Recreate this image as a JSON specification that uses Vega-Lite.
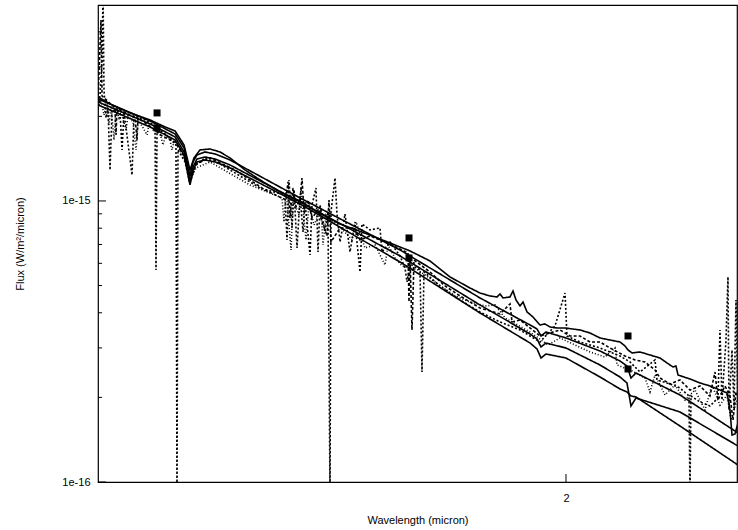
{
  "$schema": "https://vega.github.io/schema/vega-lite/v6.json",
  "autosize": "none",
  "width": 639,
  "height": 477,
  "padding": {"left": 98, "top": 5, "right": 1, "bottom": 48},
  "background": "white",
  "config": {
    "view": {"stroke": "#000", "strokeWidth": 1.2},
    "font": "Liberation Sans",
    "axis": {"domain": false, "ticks": false, "labelColor": "#000", "titleColor": "#000", "labelFont": "Liberation Sans", "titleFont": "Liberation Sans", "labelFontSize": 11, "titleFontSize": 11, "titleFontWeight": "normal", "grid": false}
  },
  "datasets": {
    "spec": [
      {"series": "m1", "lam": 1.1476, "flux": 2.307e-15},
      {"series": "m1", "lam": 1.2207, "flux": 1.926e-15},
      {"series": "m1", "lam": 1.2575, "flux": 1.732e-15},
      {"series": "m1", "lam": 1.2710, "flux": 1.544e-15},
      {"series": "m1", "lam": 1.2800, "flux": 1.227e-15},
      {"series": "m1", "lam": 1.2846, "flux": 1.377e-15},
      {"series": "m1", "lam": 1.2907, "flux": 1.458e-15},
      {"series": "m1", "lam": 1.3030, "flux": 1.494e-15},
      {"series": "m1", "lam": 1.3186, "flux": 1.470e-15},
      {"series": "m1", "lam": 1.3423, "flux": 1.399e-15},
      {"series": "m1", "lam": 1.4586, "flux": 1.025e-15},
      {"series": "m1", "lam": 1.6424, "flux": 6.693e-16},
      {"series": "m1", "lam": 1.8059, "flux": 4.517e-16},
      {"series": "m1", "lam": 1.9164, "flux": 3.620e-16},
      {"series": "m1", "lam": 1.9324, "flux": 3.503e-16},
      {"series": "m1", "lam": 1.9416, "flux": 3.308e-16},
      {"series": "m1", "lam": 1.9531, "flux": 3.418e-16},
      {"series": "m1", "lam": 2.0000, "flux": 3.254e-16},
      {"series": "m1", "lam": 2.0824, "flux": 2.925e-16},
      {"series": "m1", "lam": 2.1324, "flux": 2.695e-16},
      {"series": "m1", "lam": 2.1502, "flux": 2.587e-16},
      {"series": "m1", "lam": 2.1604, "flux": 2.345e-16},
      {"series": "m1", "lam": 2.1733, "flux": 2.443e-16},
      {"series": "m1", "lam": 2.2898, "flux": 2.040e-16},
      {"series": "m1", "lam": 2.4530, "flux": 1.494e-16},
      {"series": "m2", "lam": 1.1476, "flux": 2.251e-15},
      {"series": "m2", "lam": 1.2207, "flux": 1.880e-15},
      {"series": "m2", "lam": 1.2575, "flux": 1.690e-15},
      {"series": "m2", "lam": 1.2710, "flux": 1.494e-15},
      {"series": "m2", "lam": 1.2800, "flux": 1.169e-15},
      {"series": "m2", "lam": 1.2846, "flux": 1.321e-15},
      {"series": "m2", "lam": 1.2907, "flux": 1.411e-15},
      {"series": "m2", "lam": 1.3030, "flux": 1.434e-15},
      {"series": "m2", "lam": 1.3186, "flux": 1.411e-15},
      {"series": "m2", "lam": 1.3423, "flux": 1.343e-15},
      {"series": "m2", "lam": 1.4586, "flux": 9.918e-16},
      {"series": "m2", "lam": 1.6424, "flux": 6.372e-16},
      {"series": "m2", "lam": 1.8059, "flux": 4.265e-16},
      {"series": "m2", "lam": 1.9164, "flux": 3.363e-16},
      {"series": "m2", "lam": 1.9324, "flux": 3.228e-16},
      {"series": "m2", "lam": 1.9416, "flux": 3.023e-16},
      {"series": "m2", "lam": 1.9531, "flux": 3.124e-16},
      {"series": "m2", "lam": 2.0000, "flux": 2.998e-16},
      {"series": "m2", "lam": 2.0824, "flux": 2.608e-16},
      {"series": "m2", "lam": 2.1324, "flux": 2.364e-16},
      {"series": "m2", "lam": 2.1502, "flux": 2.251e-16},
      {"series": "m2", "lam": 2.1604, "flux": 1.864e-16},
      {"series": "m2", "lam": 2.1733, "flux": 1.990e-16},
      {"series": "m2", "lam": 2.2898, "flux": 1.775e-16},
      {"series": "m2", "lam": 2.4530, "flux": 1.343e-16},
      {"series": "m3", "lam": 1.1476, "flux": 2.196e-15},
      {"series": "m3", "lam": 1.2207, "flux": 1.834e-15},
      {"series": "m3", "lam": 1.2575, "flux": 1.649e-15},
      {"series": "m3", "lam": 1.2710, "flux": 1.458e-15},
      {"series": "m3", "lam": 1.2800, "flux": 1.140e-15},
      {"series": "m3", "lam": 1.2846, "flux": 1.289e-15},
      {"series": "m3", "lam": 1.2907, "flux": 1.377e-15},
      {"series": "m3", "lam": 1.3030, "flux": 1.399e-15},
      {"series": "m3", "lam": 1.3186, "flux": 1.377e-15},
      {"series": "m3", "lam": 1.3423, "flux": 1.311e-15},
      {"series": "m3", "lam": 1.4586, "flux": 9.757e-16},
      {"series": "m3", "lam": 1.6424, "flux": 6.066e-16},
      {"series": "m3", "lam": 1.8059, "flux": 3.994e-16},
      {"series": "m3", "lam": 1.9164, "flux": 3.124e-16},
      {"series": "m3", "lam": 1.9324, "flux": 2.974e-16},
      {"series": "m3", "lam": 1.9416, "flux": 2.762e-16},
      {"series": "m3", "lam": 1.9531, "flux": 2.854e-16},
      {"series": "m3", "lam": 2.0000, "flux": 2.762e-16},
      {"series": "m3", "lam": 2.0824, "flux": 2.364e-16},
      {"series": "m3", "lam": 2.1324, "flux": 2.143e-16},
      {"series": "m3", "lam": 2.1502, "flux": 2.091e-16},
      {"series": "m3", "lam": 2.1604, "flux": 2.023e-16},
      {"series": "m3", "lam": 2.1733, "flux": 2.007e-16},
      {"series": "m3", "lam": 2.2898, "flux": 1.582e-16},
      {"series": "m3", "lam": 2.4530, "flux": 1.149e-16},
      {"series": "o1", "lam": 1.1476, "flux": 2.345e-15},
      {"series": "o1", "lam": 1.1641, "flux": 2.214e-15},
      {"series": "o1", "lam": 1.1921, "flux": 2.057e-15},
      {"series": "o1", "lam": 1.2207, "flux": 1.942e-15},
      {"series": "o1", "lam": 1.2426, "flux": 1.834e-15},
      {"series": "o1", "lam": 1.2575, "flux": 1.775e-15},
      {"series": "o1", "lam": 1.2710, "flux": 1.582e-15},
      {"series": "o1", "lam": 1.2800, "flux": 1.289e-15},
      {"series": "o1", "lam": 1.2861, "flux": 1.422e-15},
      {"series": "o1", "lam": 1.2953, "flux": 1.519e-15},
      {"series": "o1", "lam": 1.3108, "flux": 1.531e-15},
      {"series": "o1", "lam": 1.3264, "flux": 1.494e-15},
      {"series": "o1", "lam": 1.3423, "flux": 1.422e-15},
      {"series": "o1", "lam": 1.3664, "flux": 1.289e-15},
      {"series": "o1", "lam": 1.3909, "flux": 1.188e-15},
      {"series": "o1", "lam": 1.4243, "flux": 1.077e-15},
      {"series": "o1", "lam": 1.4586, "flux": 1.000e-15},
      {"series": "o1", "lam": 1.4883, "flux": 9.138e-16},
      {"series": "o1", "lam": 1.5295, "flux": 8.282e-16},
      {"series": "o1", "lam": 1.5793, "flux": 7.631e-16},
      {"series": "o1", "lam": 1.6230, "flux": 7.088e-16},
      {"series": "o1", "lam": 1.6620, "flux": 6.638e-16},
      {"series": "o1", "lam": 1.7019, "flux": 6.116e-16},
      {"series": "o1", "lam": 1.7428, "flux": 5.365e-16},
      {"series": "o1", "lam": 1.7846, "flux": 4.902e-16},
      {"series": "o1", "lam": 1.8059, "flux": 4.705e-16},
      {"series": "o1", "lam": 1.8275, "flux": 4.591e-16},
      {"series": "o1", "lam": 1.8428, "flux": 4.554e-16},
      {"series": "o1", "lam": 1.8493, "flux": 4.667e-16},
      {"series": "o1", "lam": 1.8559, "flux": 4.517e-16},
      {"series": "o1", "lam": 1.8714, "flux": 4.554e-16},
      {"series": "o1", "lam": 1.8781, "flux": 4.783e-16},
      {"series": "o1", "lam": 1.8848, "flux": 4.443e-16},
      {"series": "o1", "lam": 1.8938, "flux": 4.230e-16},
      {"series": "o1", "lam": 1.9005, "flux": 4.371e-16},
      {"series": "o1", "lam": 1.9096, "flux": 4.027e-16},
      {"series": "o1", "lam": 1.9232, "flux": 3.865e-16},
      {"series": "o1", "lam": 1.9392, "flux": 3.620e-16},
      {"series": "o1", "lam": 1.9508, "flux": 3.650e-16},
      {"series": "o1", "lam": 1.9624, "flux": 3.561e-16},
      {"series": "o1", "lam": 1.9788, "flux": 3.532e-16},
      {"series": "o1", "lam": 1.9977, "flux": 3.532e-16},
      {"series": "o1", "lam": 2.0335, "flux": 3.475e-16},
      {"series": "o1", "lam": 2.0578, "flux": 3.390e-16},
      {"series": "o1", "lam": 2.0824, "flux": 3.254e-16},
      {"series": "o1", "lam": 2.1072, "flux": 3.201e-16},
      {"series": "o1", "lam": 2.1324, "flux": 3.149e-16},
      {"series": "o1", "lam": 2.1451, "flux": 3.048e-16},
      {"series": "o1", "lam": 2.1528, "flux": 2.950e-16},
      {"series": "o1", "lam": 2.1630, "flux": 2.878e-16},
      {"series": "o1", "lam": 2.1836, "flux": 2.902e-16},
      {"series": "o1", "lam": 2.2097, "flux": 2.831e-16},
      {"series": "o1", "lam": 2.2361, "flux": 2.762e-16},
      {"series": "o1", "lam": 2.2547, "flux": 2.652e-16},
      {"series": "o1", "lam": 2.2708, "flux": 2.566e-16},
      {"series": "o1", "lam": 2.2789, "flux": 2.587e-16},
      {"series": "o1", "lam": 2.2844, "flux": 2.403e-16},
      {"series": "o1", "lam": 2.3171, "flux": 2.326e-16},
      {"series": "o1", "lam": 2.3448, "flux": 2.251e-16},
      {"series": "o1", "lam": 2.3728, "flux": 2.196e-16},
      {"series": "o1", "lam": 2.4011, "flux": 2.125e-16},
      {"series": "o1", "lam": 2.4212, "flux": 2.074e-16},
      {"series": "o1", "lam": 2.4298, "flux": 1.804e-16},
      {"series": "o1", "lam": 2.4356, "flux": 1.470e-16},
      {"series": "o1", "lam": 2.4443, "flux": 1.482e-16},
      {"series": "o1", "lam": 2.4530, "flux": 1.622e-16},
      {"series": "d1", "lam": 1.1476, "flux": 2.108e-15},
      {"series": "d1", "lam": 1.1504, "flux": 2.384e-15},
      {"series": "d1", "lam": 1.1531, "flux": 3.175e-15},
      {"series": "d1", "lam": 1.1545, "flux": 5.5e-15},
      {"series": "d1", "lam": 1.1558, "flux": 2.483e-15},
      {"series": "d1", "lam": 1.1586, "flux": 1.974e-15},
      {"series": "d1", "lam": 1.1613, "flux": 2.143e-15},
      {"series": "d1", "lam": 1.1641, "flux": 1.289e-15},
      {"series": "d1", "lam": 1.1669, "flux": 2.108e-15},
      {"series": "d1", "lam": 1.1780, "flux": 2.074e-15},
      {"series": "d1", "lam": 1.1808, "flux": 1.519e-15},
      {"series": "d1", "lam": 1.1836, "flux": 2.074e-15},
      {"series": "d1", "lam": 1.1949, "flux": 1.237e-15},
      {"series": "d1", "lam": 1.1977, "flux": 2.007e-15},
      {"series": "d1", "lam": 1.2135, "flux": 1.942e-15},
      {"series": "d1", "lam": 1.2280, "flux": 1.849e-15},
      {"series": "d1", "lam": 1.2294, "flux": 5.681e-16},
      {"series": "d1", "lam": 1.2309, "flux": 1.819e-15},
      {"series": "d1", "lam": 1.2426, "flux": 1.732e-15},
      {"series": "d1", "lam": 1.2589, "flux": 1.582e-15},
      {"series": "d1", "lam": 1.2604, "flux": 9.0e-17},
      {"series": "d1", "lam": 1.2619, "flux": 1.519e-15},
      {"series": "d1", "lam": 1.2725, "flux": 1.377e-15},
      {"series": "d1", "lam": 1.2800, "flux": 1.150e-15},
      {"series": "d1", "lam": 1.2877, "flux": 1.332e-15},
      {"series": "d1", "lam": 1.3030, "flux": 1.422e-15},
      {"series": "d1", "lam": 1.3264, "flux": 1.354e-15},
      {"series": "d1", "lam": 1.3583, "flux": 1.227e-15},
      {"series": "d1", "lam": 1.3909, "flux": 1.112e-15},
      {"series": "d1", "lam": 1.4328, "flux": 1.050e-15},
      {"series": "d1", "lam": 1.4362, "flux": 7.265e-16},
      {"series": "d1", "lam": 1.4396, "flux": 1.188e-15},
      {"series": "d1", "lam": 1.4448, "flux": 8.015e-16},
      {"series": "d1", "lam": 1.4482, "flux": 1.094e-15},
      {"series": "d1", "lam": 1.4534, "flux": 6.804e-16},
      {"series": "d1", "lam": 1.4586, "flux": 1.042e-15},
      {"series": "d1", "lam": 1.4638, "flux": 7.757e-16},
      {"series": "d1", "lam": 1.4672, "flux": 9.918e-16},
      {"series": "d1", "lam": 1.4760, "flux": 6.424e-16},
      {"series": "d1", "lam": 1.4795, "flux": 9.677e-16},
      {"series": "d1", "lam": 1.4865, "flux": 1.112e-15},
      {"series": "d1", "lam": 1.4901, "flux": 6.584e-16},
      {"series": "d1", "lam": 1.4936, "flux": 9.677e-16},
      {"series": "d1", "lam": 1.5025, "flux": 7.757e-16},
      {"series": "d1", "lam": 1.5078, "flux": 9.138e-16},
      {"series": "d1", "lam": 1.5114, "flux": 9.0e-17},
      {"series": "d1", "lam": 1.5132, "flux": 9.138e-16},
      {"series": "d1", "lam": 1.5204, "flux": 1.207e-15},
      {"series": "d1", "lam": 1.5240, "flux": 8.989e-16},
      {"series": "d1", "lam": 1.5295, "flux": 7.146e-16},
      {"series": "d1", "lam": 1.5386, "flux": 8.989e-16},
      {"series": "d1", "lam": 1.5477, "flux": 6.584e-16},
      {"series": "d1", "lam": 1.5569, "flux": 8.419e-16},
      {"series": "d1", "lam": 1.5662, "flux": 5.589e-16},
      {"series": "d1", "lam": 1.5699, "flux": 8.282e-16},
      {"series": "d1", "lam": 1.5849, "flux": 7.885e-16},
      {"series": "d1", "lam": 1.6038, "flux": 8.015e-16},
      {"series": "d1", "lam": 1.6077, "flux": 6.584e-16},
      {"series": "d1", "lam": 1.6230, "flux": 7.146e-16},
      {"series": "d1", "lam": 1.6424, "flux": 6.372e-16},
      {"series": "d1", "lam": 1.6521, "flux": 5.775e-16},
      {"series": "d1", "lam": 1.6561, "flux": 5.149e-16},
      {"series": "d1", "lam": 1.6620, "flux": 5.968e-16},
      {"series": "d1", "lam": 1.6818, "flux": 5.681e-16},
      {"series": "d1", "lam": 1.6858, "flux": 2.463e-16},
      {"series": "d1", "lam": 1.6898, "flux": 5.589e-16},
      {"series": "d1", "lam": 1.7222, "flux": 4.983e-16},
      {"series": "d1", "lam": 1.7636, "flux": 4.443e-16},
      {"series": "d1", "lam": 1.8059, "flux": 4.027e-16},
      {"series": "d1", "lam": 1.8493, "flux": 3.710e-16},
      {"series": "d1", "lam": 1.8938, "flux": 3.475e-16},
      {"series": "d1", "lam": 1.9392, "flux": 3.149e-16},
      {"series": "d1", "lam": 1.9741, "flux": 3.591e-16},
      {"series": "d1", "lam": 1.9977, "flux": 4.705e-16},
      {"series": "d1", "lam": 2.0024, "flux": 3.308e-16},
      {"series": "d1", "lam": 2.0335, "flux": 3.149e-16},
      {"series": "d1", "lam": 2.0824, "flux": 2.998e-16},
      {"series": "d1", "lam": 2.1324, "flux": 2.808e-16},
      {"series": "d1", "lam": 2.1579, "flux": 2.673e-16},
      {"series": "d1", "lam": 2.1836, "flux": 2.463e-16},
      {"series": "d1", "lam": 2.2229, "flux": 2.718e-16},
      {"series": "d1", "lam": 2.2281, "flux": 2.307e-16},
      {"series": "d1", "lam": 2.2628, "flux": 2.232e-16},
      {"series": "d1", "lam": 2.2898, "flux": 2.160e-16},
      {"series": "d1", "lam": 2.3144, "flux": 2.023e-16},
      {"series": "d1", "lam": 2.3171, "flux": 9.0e-17},
      {"series": "d1", "lam": 2.3199, "flux": 2.023e-16},
      {"series": "d1", "lam": 2.3448, "flux": 1.926e-16},
      {"series": "d1", "lam": 2.3728, "flux": 1.864e-16},
      {"series": "d1", "lam": 2.3954, "flux": 1.990e-16},
      {"series": "d1", "lam": 2.4011, "flux": 3.475e-16},
      {"series": "d1", "lam": 2.4068, "flux": 1.958e-16},
      {"series": "d1", "lam": 2.4183, "flux": 3.201e-16},
      {"series": "d1", "lam": 2.4240, "flux": 5.365e-16},
      {"series": "d1", "lam": 2.4269, "flux": 1.804e-16},
      {"series": "d1", "lam": 2.4356, "flux": 2.950e-16},
      {"series": "d1", "lam": 2.4414, "flux": 1.834e-16},
      {"series": "d1", "lam": 2.4472, "flux": 4.443e-16},
      {"series": "d1", "lam": 2.4530, "flux": 1.775e-16},
      {"series": "d2", "lam": 1.1476, "flux": 2.288e-15},
      {"series": "d2", "lam": 1.1517, "flux": 4.407e-15},
      {"series": "d2", "lam": 1.1531, "flux": 2.364e-15},
      {"series": "d2", "lam": 1.1710, "flux": 2.143e-15},
      {"series": "d2", "lam": 1.1724, "flux": 1.718e-15},
      {"series": "d2", "lam": 1.1738, "flux": 2.143e-15},
      {"series": "d2", "lam": 1.1992, "flux": 1.974e-15},
      {"series": "d2", "lam": 1.2020, "flux": 1.649e-15},
      {"series": "d2", "lam": 1.2034, "flux": 1.974e-15},
      {"series": "d2", "lam": 1.2280, "flux": 1.789e-15},
      {"series": "d2", "lam": 1.2353, "flux": 1.718e-15},
      {"series": "d2", "lam": 1.2575, "flux": 1.622e-15},
      {"series": "d2", "lam": 1.2725, "flux": 1.422e-15},
      {"series": "d2", "lam": 1.2800, "flux": 1.159e-15},
      {"series": "d2", "lam": 1.2892, "flux": 1.354e-15},
      {"series": "d2", "lam": 1.3108, "flux": 1.422e-15},
      {"series": "d2", "lam": 1.3503, "flux": 1.289e-15},
      {"series": "d2", "lam": 1.3992, "flux": 1.094e-15},
      {"series": "d2", "lam": 1.4345, "flux": 1.008e-15},
      {"series": "d2", "lam": 1.4379, "flux": 1.169e-15},
      {"series": "d2", "lam": 1.4413, "flux": 8.699e-16},
      {"series": "d2", "lam": 1.4465, "flux": 1.112e-15},
      {"series": "d2", "lam": 1.4517, "flux": 9.520e-16},
      {"series": "d2", "lam": 1.4586, "flux": 1.008e-15},
      {"series": "d2", "lam": 1.4620, "flux": 1.207e-15},
      {"series": "d2", "lam": 1.4655, "flux": 9.138e-16},
      {"series": "d2", "lam": 1.4725, "flux": 1.008e-15},
      {"series": "d2", "lam": 1.4795, "flux": 8.699e-16},
      {"series": "d2", "lam": 1.4901, "flux": 9.289e-16},
      {"series": "d2", "lam": 1.5061, "flux": 7.507e-16},
      {"series": "d2", "lam": 1.5096, "flux": 1.008e-15},
      {"series": "d2", "lam": 1.5132, "flux": 7.146e-16},
      {"series": "d2", "lam": 1.5295, "flux": 8.015e-16},
      {"series": "d2", "lam": 1.5569, "flux": 8.015e-16},
      {"series": "d2", "lam": 1.5662, "flux": 7.265e-16},
      {"series": "d2", "lam": 1.5849, "flux": 7.507e-16},
      {"series": "d2", "lam": 1.6134, "flux": 7.146e-16},
      {"series": "d2", "lam": 1.6385, "flux": 6.804e-16},
      {"series": "d2", "lam": 1.6580, "flux": 6.530e-16},
      {"series": "d2", "lam": 1.6600, "flux": 4.371e-16},
      {"series": "d2", "lam": 1.6620, "flux": 6.268e-16},
      {"series": "d2", "lam": 1.6659, "flux": 3.475e-16},
      {"series": "d2", "lam": 1.6699, "flux": 6.166e-16},
      {"series": "d2", "lam": 1.7019, "flux": 5.589e-16},
      {"series": "d2", "lam": 1.7325, "flux": 4.983e-16},
      {"series": "d2", "lam": 1.7636, "flux": 4.591e-16},
      {"series": "d2", "lam": 1.8059, "flux": 4.161e-16},
      {"series": "d2", "lam": 1.8493, "flux": 3.962e-16},
      {"series": "d2", "lam": 1.8714, "flux": 4.300e-16},
      {"series": "d2", "lam": 1.8759, "flux": 3.710e-16},
      {"series": "d2", "lam": 1.8938, "flux": 3.772e-16},
      {"series": "d2", "lam": 1.9392, "flux": 3.308e-16},
      {"series": "d2", "lam": 1.9858, "flux": 3.475e-16},
      {"series": "d2", "lam": 2.0095, "flux": 3.308e-16},
      {"series": "d2", "lam": 2.0335, "flux": 3.308e-16},
      {"series": "d2", "lam": 2.0578, "flux": 3.149e-16},
      {"series": "d2", "lam": 2.0824, "flux": 3.149e-16},
      {"series": "d2", "lam": 2.1072, "flux": 2.998e-16},
      {"series": "d2", "lam": 2.1451, "flux": 2.808e-16},
      {"series": "d2", "lam": 2.1707, "flux": 2.718e-16},
      {"series": "d2", "lam": 2.1966, "flux": 2.673e-16},
      {"series": "d2", "lam": 2.2229, "flux": 2.504e-16},
      {"series": "d2", "lam": 2.2361, "flux": 2.345e-16},
      {"series": "d2", "lam": 2.2628, "flux": 2.232e-16},
      {"series": "d2", "lam": 2.2898, "flux": 2.307e-16},
      {"series": "d2", "lam": 2.3171, "flux": 2.125e-16},
      {"series": "d2", "lam": 2.3448, "flux": 2.196e-16},
      {"series": "d2", "lam": 2.3728, "flux": 2.023e-16},
      {"series": "d2", "lam": 2.3869, "flux": 2.463e-16},
      {"series": "d2", "lam": 2.3954, "flux": 1.958e-16},
      {"series": "d2", "lam": 2.4154, "flux": 2.196e-16},
      {"series": "d2", "lam": 2.4298, "flux": 2.023e-16},
      {"series": "d2", "lam": 2.4385, "flux": 1.662e-16},
      {"series": "d2", "lam": 2.4472, "flux": 2.091e-16},
      {"series": "d2", "lam": 2.4530, "flux": 2.023e-16},
      {"series": "d3", "lam": 1.1476, "flux": 2.143e-15},
      {"series": "d3", "lam": 1.1517, "flux": 2.288e-15},
      {"series": "d3", "lam": 1.1558, "flux": 2.023e-15},
      {"series": "d3", "lam": 1.1600, "flux": 2.251e-15},
      {"series": "d3", "lam": 1.1627, "flux": 1.864e-15},
      {"series": "d3", "lam": 1.1655, "flux": 2.178e-15},
      {"series": "d3", "lam": 1.1696, "flux": 1.649e-15},
      {"series": "d3", "lam": 1.1724, "flux": 2.143e-15},
      {"series": "d3", "lam": 1.1766, "flux": 1.974e-15},
      {"series": "d3", "lam": 1.1794, "flux": 2.074e-15},
      {"series": "d3", "lam": 1.1864, "flux": 1.789e-15},
      {"series": "d3", "lam": 1.1892, "flux": 2.007e-15},
      {"series": "d3", "lam": 1.1963, "flux": 1.911e-15},
      {"series": "d3", "lam": 1.2006, "flux": 1.519e-15},
      {"series": "d3", "lam": 1.2034, "flux": 1.942e-15},
      {"series": "d3", "lam": 1.2092, "flux": 1.849e-15},
      {"series": "d3", "lam": 1.2164, "flux": 1.718e-15},
      {"series": "d3", "lam": 1.2193, "flux": 1.880e-15},
      {"series": "d3", "lam": 1.2250, "flux": 1.789e-15},
      {"series": "d3", "lam": 1.2353, "flux": 1.746e-15},
      {"series": "d3", "lam": 1.2397, "flux": 1.582e-15},
      {"series": "d3", "lam": 1.2441, "flux": 1.732e-15},
      {"series": "d3", "lam": 1.2500, "flux": 1.649e-15},
      {"series": "d3", "lam": 1.2530, "flux": 1.519e-15},
      {"series": "d3", "lam": 1.2560, "flux": 1.622e-15},
      {"series": "d3", "lam": 1.2649, "flux": 1.519e-15},
      {"series": "d3", "lam": 1.2740, "flux": 1.365e-15},
      {"series": "d3", "lam": 1.2800, "flux": 1.188e-15},
      {"series": "d3", "lam": 1.2892, "flux": 1.311e-15},
      {"series": "d3", "lam": 1.3108, "flux": 1.377e-15},
      {"series": "d3", "lam": 1.3745, "flux": 1.140e-15},
      {"series": "d3", "lam": 1.4277, "flux": 1.025e-15},
      {"series": "d3", "lam": 1.4311, "flux": 8.419e-16},
      {"series": "d3", "lam": 1.4345, "flux": 1.094e-15},
      {"series": "d3", "lam": 1.4431, "flux": 6.693e-16},
      {"series": "d3", "lam": 1.4465, "flux": 1.008e-15},
      {"series": "d3", "lam": 1.4568, "flux": 8.916e-16},
      {"series": "d3", "lam": 1.4603, "flux": 1.112e-15},
      {"series": "d3", "lam": 1.4690, "flux": 7.265e-16},
      {"series": "d3", "lam": 1.4742, "flux": 9.757e-16},
      {"series": "d3", "lam": 1.4830, "flux": 8.215e-16},
      {"series": "d3", "lam": 1.4954, "flux": 9.289e-16},
      {"series": "d3", "lam": 1.4989, "flux": 6.973e-16},
      {"series": "d3", "lam": 1.5043, "flux": 8.916e-16},
      {"series": "d3", "lam": 1.5186, "flux": 8.419e-16},
      {"series": "d3", "lam": 1.5349, "flux": 7.885e-16},
      {"series": "d3", "lam": 1.5514, "flux": 7.265e-16},
      {"series": "d3", "lam": 1.5588, "flux": 8.419e-16},
      {"series": "d3", "lam": 1.5755, "flux": 6.804e-16},
      {"series": "d3", "lam": 1.5944, "flux": 6.973e-16},
      {"series": "d3", "lam": 1.6134, "flux": 5.919e-16},
      {"series": "d3", "lam": 1.6192, "flux": 6.973e-16},
      {"series": "d3", "lam": 1.6327, "flux": 6.268e-16},
      {"series": "d3", "lam": 1.6463, "flux": 5.871e-16},
      {"series": "d3", "lam": 1.6778, "flux": 5.681e-16},
      {"series": "d3", "lam": 1.7120, "flux": 5.149e-16},
      {"series": "d3", "lam": 1.7532, "flux": 4.591e-16},
      {"series": "d3", "lam": 1.7846, "flux": 4.371e-16},
      {"series": "d3", "lam": 1.8167, "flux": 4.230e-16},
      {"series": "d3", "lam": 1.8384, "flux": 4.265e-16},
      {"series": "d3", "lam": 1.8603, "flux": 3.834e-16},
      {"series": "d3", "lam": 1.9164, "flux": 3.418e-16},
      {"series": "d3", "lam": 1.9578, "flux": 3.073e-16},
      {"series": "d3", "lam": 1.9858, "flux": 3.254e-16},
      {"series": "d3", "lam": 2.0215, "flux": 3.073e-16},
      {"series": "d3", "lam": 2.0578, "flux": 2.902e-16},
      {"series": "d3", "lam": 2.0948, "flux": 2.785e-16},
      {"series": "d3", "lam": 2.1198, "flux": 2.998e-16},
      {"series": "d3", "lam": 2.1248, "flux": 2.608e-16},
      {"series": "d3", "lam": 2.1579, "flux": 2.504e-16},
      {"series": "d3", "lam": 2.1966, "flux": 2.345e-16},
      {"series": "d3", "lam": 2.2097, "flux": 2.091e-16},
      {"series": "d3", "lam": 2.2229, "flux": 2.403e-16},
      {"series": "d3", "lam": 2.2494, "flux": 2.040e-16},
      {"series": "d3", "lam": 2.2763, "flux": 2.214e-16},
      {"series": "d3", "lam": 2.3034, "flux": 1.958e-16},
      {"series": "d3", "lam": 2.3309, "flux": 2.125e-16},
      {"series": "d3", "lam": 2.3588, "flux": 1.804e-16},
      {"series": "d3", "lam": 2.3784, "flux": 2.214e-16},
      {"series": "d3", "lam": 2.4011, "flux": 1.879e-16},
      {"series": "d3", "lam": 2.4212, "flux": 2.040e-16},
      {"series": "d3", "lam": 2.4327, "flux": 1.662e-16},
      {"series": "d3", "lam": 2.4500, "flux": 1.958e-16}
    ],
    "phot": [
      {"band": "J", "lam": 1.2309, "flux": 2.057e-15},
      {"band": "J", "lam": 1.2309, "flux": 1.819e-15},
      {"band": "H", "lam": 1.6600, "flux": 7.385e-16},
      {"band": "H", "lam": 1.6600, "flux": 6.268e-16},
      {"band": "K", "lam": 2.1528, "flux": 3.308e-16},
      {"band": "K", "lam": 2.1528, "flux": 2.524e-16}
    ],
    "ymajor": [{"tick": 1e-16}, {"tick": 1e-15}],
    "yminor": [{"tick": 2e-16}, {"tick": 3e-16}, {"tick": 4e-16}, {"tick": 5e-16}, {"tick": 6e-16}, {"tick": 7e-16}, {"tick": 8e-16}, {"tick": 9e-16}, {"tick": 2e-15}, {"tick": 3e-15}, {"tick": 4e-15}],
    "xmajor": [{"tick": 2}]
  },
  "layer": [
    {
      "data": {"name": "spec"},
      "mark": {"type": "line", "clip": true, "color": "#000", "interpolate": "linear"},
      "encoding": {
        "x": {
          "field": "lam", "type": "quantitative",
          "scale": {"type": "log", "domain": [1.1476, 2.4501], "nice": false, "zero": false},
          "axis": {"title": "Wavelength (micron)", "values": [2], "labelExpr": "'2'", "labelPadding": 10, "titlePadding": 11}
        },
        "y": {
          "field": "flux", "type": "quantitative",
          "scale": {"type": "log", "domain": [1e-16, 4.98e-15], "nice": false, "zero": false},
          "axis": {
            "title": "Flux (W/m²/micron)",
            "values": [1e-16, 1e-15],
            "labelExpr": "datum.value > 5e-16 ? '1e-15' : '1e-16'",
            "labelPadding": 8,
            "titlePadding": 36
          }
        },
        "detail": {"field": "series"},
        "strokeDash": {
          "field": "series", "type": "nominal", "legend": null,
          "scale": {"domain": ["m1", "m2", "m3", "o1", "d1", "d2", "d3"], "range": [[1, 0], [1, 0], [1, 0], [1, 0], [2, 2], [3, 2], [1, 2]]}
        },
        "strokeWidth": {
          "field": "series", "type": "nominal", "legend": null,
          "scale": {"domain": ["m1", "m2", "m3", "o1", "d1", "d2", "d3"], "range": [1.6, 1.6, 1.6, 1.1, 1, 1, 1]}
        }
      }
    },
    {
      "data": {"name": "phot"},
      "mark": {"type": "point", "shape": "square", "filled": true, "color": "#000", "opacity": 1, "size": 49, "clip": true},
      "encoding": {
        "x": {"field": "lam", "type": "quantitative"},
        "y": {"field": "flux", "type": "quantitative"}
      }
    },
    {
      "data": {"name": "ymajor"},
      "mark": {"type": "rule", "color": "#000", "strokeWidth": 1, "clip": true},
      "encoding": {
        "y": {"field": "tick", "type": "quantitative"},
        "x": {"datum": 1.1476},
        "x2": {"datum": 1.1586}
      }
    },
    {
      "data": {"name": "yminor"},
      "mark": {"type": "rule", "color": "#000", "strokeWidth": 1, "clip": true},
      "encoding": {
        "y": {"field": "tick", "type": "quantitative"},
        "x": {"datum": 1.1476},
        "x2": {"datum": 1.1531}
      }
    },
    {
      "data": {"name": "xmajor"},
      "mark": {"type": "rule", "color": "#000", "strokeWidth": 1, "clip": true},
      "encoding": {
        "x": {"field": "tick", "type": "quantitative"},
        "y": {"datum": 1e-16},
        "y2": {"datum": 1.068e-16}
      }
    }
  ]
}
